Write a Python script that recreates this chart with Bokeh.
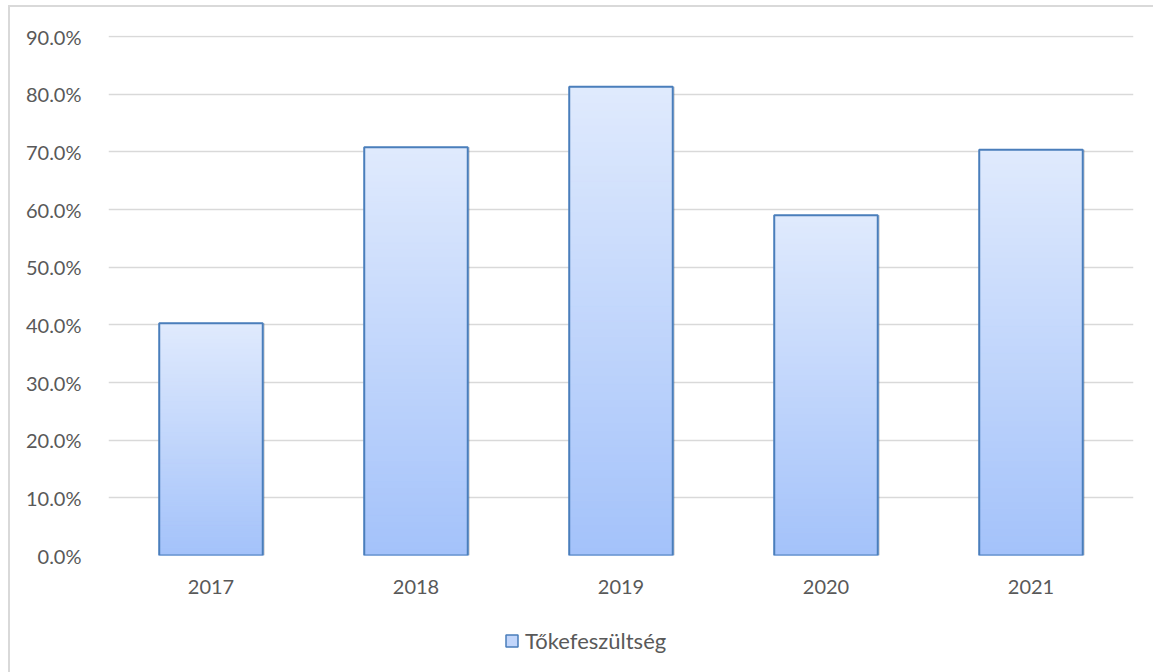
from bokeh.plotting import figure
from bokeh.layouts import column
from bokeh.models import Range1d, Legend, LegendItem, FixedTicker, CustomJSTickFormatter, ColumnDataSource
from bokeh.transform import dodge
from bokeh.embed import file_html
from bokeh.resources import INLINE

years = ["2017", "2018", "2019", "2020", "2021"]
values = [40.3, 70.8, 81.3, 59.0, 70.4]
y_ticks = [0, 10, 20, 30, 40, 50, 60, 70, 80, 90]
series_name = "Tőkefeszültség"

FONT = "Lato"
TXT = "#595959"
GRID = "#d9d9d9"
TOP_C = (0xE0, 0xEA, 0xFD)
BOT_C = (0xA3, 0xC2, 0xFA)
EDGE = "#4a7ebb"

p = figure(width=1143, height=610, x_range=years, output_backend="svg",
           toolbar_location=None, min_border_left=98, min_border_right=20,
           min_border_top=28, min_border_bottom=62)
p.y_range = Range1d(0, 90.2)

src = ColumnDataSource(dict(x=years, top=values))
# soft shadow
p.vbar(x=dodge("x", 0.011, range=p.x_range), top="top", width=0.505, source=src,
       fill_color="#000000", fill_alpha=0.13, line_color=None)

# gradient fill built from slices of each bar
N = 60
xs, bots, tops, cols = [], [], [], []
for yr, v in zip(years, values):
    for i in range(N):
        t = (i + 0.5) / N
        c = tuple(int(round(b + (a - b) * t)) for a, b in zip(TOP_C, BOT_C))
        xs.append(yr)
        bots.append(v * i / N)
        tops.append(v * (i + 1) / N)
        cols.append("#%02x%02x%02x" % c)
p.vbar(x=xs, bottom=bots, top=tops, width=0.505, fill_color=cols, line_color=cols, line_width=1)
p.vbar(x="x", top="top", width=0.505, source=src, fill_color=None, line_color=EDGE, line_width=2)

# axes
p.yaxis.ticker = FixedTicker(ticks=y_ticks)
p.yaxis.formatter = CustomJSTickFormatter(code="return tick.toFixed(1) + '%';")
for ax in (p.xaxis, p.yaxis):
    ax.axis_line_color = None
    ax.major_tick_line_color = None
    ax.minor_tick_line_color = None
    ax.major_label_text_font = FONT
    ax.major_label_text_font_size = "20px"
    ax.major_label_text_color = TXT
p.yaxis.major_label_standoff = 21
p.xaxis.major_label_standoff = 18
p.xgrid.grid_line_color = None
p.ygrid.grid_line_color = GRID
p.ygrid.grid_line_width = 1.5
p.outline_line_color = None

# legend panel
lg = figure(width=1143, height=55, output_backend="svg", toolbar_location=None,
            x_range=Range1d(0, 1), y_range=Range1d(0, 1),
            min_border=0, min_border_left=0, min_border_right=0,
            min_border_top=0, min_border_bottom=0)
lg.axis.visible = False
lg.grid.visible = False
lg.outline_line_color = None
dummy = lg.quad(left=[5], right=[6], bottom=[5], top=[6],
                fill_color="#c2d6fb", line_color=EDGE, line_width=1.5)
legend = Legend(items=[LegendItem(label=series_name, renderers=[dummy])],
                location=(396, 18), orientation="horizontal",
                label_text_font=FONT, label_text_font_size="22px", label_text_color=TXT,
                glyph_width=15, glyph_height=15, label_standoff=6, padding=4,
                border_line_color=None, background_fill_alpha=0)
lg.add_layout(legend, "center")

layout = column(p, lg, spacing=0)
layout.styles = {"margin": "5px 0 0 8px", "border-top": "2px solid #d9d9d9",
                 "border-left": "2px solid #d9d9d9"}

open("out.html", "w").write(file_html(layout, INLINE))
